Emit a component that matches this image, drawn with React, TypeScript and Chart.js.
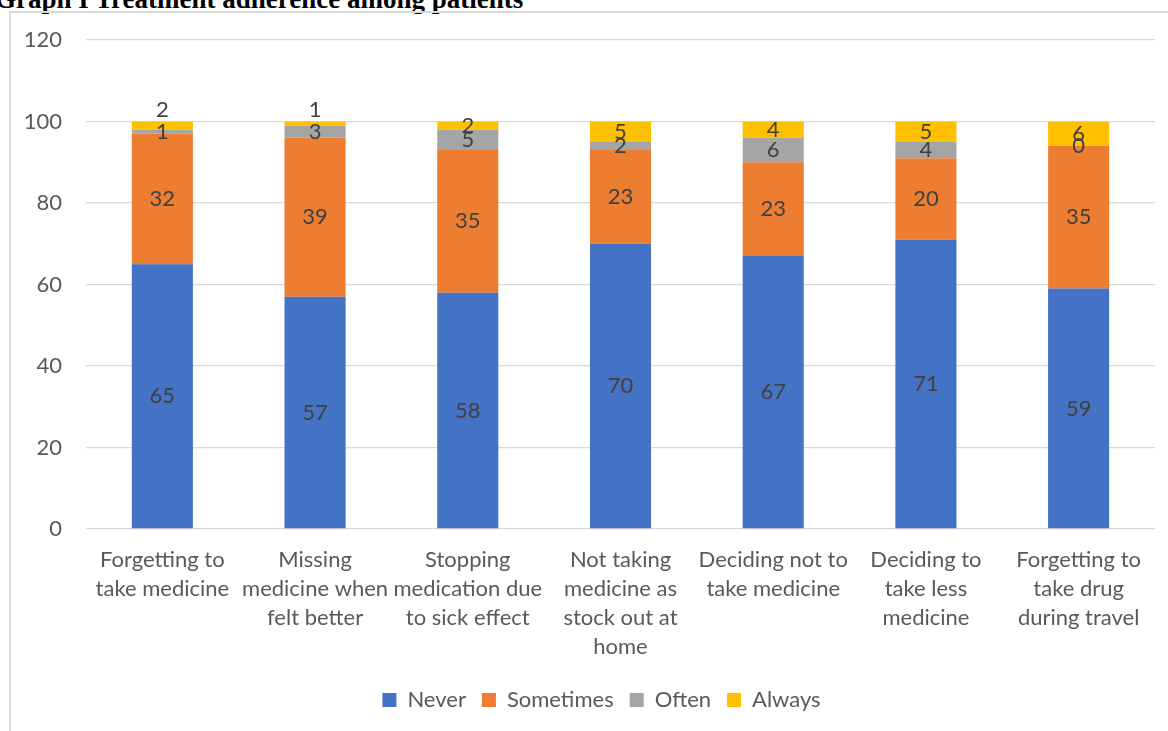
import React, { useEffect, useRef } from "react";
import { Chart, registerables } from "chart.js";

Chart.register(...registerables);

const categories: string[][] = [
  ["Forgetting to", "take medicine"],
  ["Missing", "medicine when", "felt better"],
  ["Stopping", "medication due", "to sick effect"],
  ["Not taking", "medicine as", "stock out at", "home"],
  ["Deciding not to", "take medicine"],
  ["Deciding to", "take less", "medicine"],
  ["Forgetting to", "take drug", "during travel"],
];
const neverValues = [65, 57, 58, 70, 67, 71, 59];
const sometimesValues = [32, 39, 35, 23, 23, 20, 35];
const oftenValues = [1, 3, 5, 2, 6, 4, 0];
const alwaysValues = [2, 1, 2, 5, 4, 5, 6];
const seriesNames = ["Never", "Sometimes", "Often", "Always"];
const seriesColors = ["#4472C4", "#ED7D31", "#A5A5A5", "#FFC000"];
const yMin = 0;
const yMax = 120;
const yStep = 20;

const FONT = "Lato, 'Liberation Sans', sans-serif";
const FS = 22;

const labelPlugin = {
  id: "stackLabels",
  afterLayout(chart: any) {
    const lg = chart.legend;
    if (lg) {
      lg.left += 24;
      lg.right += 24;
    }
  },
  afterDatasetsDraw(chart: any) {
    const ctx = chart.ctx;
    ctx.save();
    ctx.font = `${FS}px ${FONT}`;
    ctx.fillStyle = "#404040";
    ctx.textAlign = "center";
    ctx.textBaseline = "middle";
    const n = chart.data.labels.length;
    for (let i = 0; i < n; i++) {
      let prevY = Infinity;
      chart.data.datasets.forEach((ds: any, di: number) => {
        const meta = chart.getDatasetMeta(di);
        const el = meta.data[i];
        if (!el) return;
        const { x, y, base } = el.getProps(["x", "y", "base"], true);
        let cy = (y + base) / 2;
        if (prevY - cy < 10) cy = prevY - 22;
        ctx.fillText(String(ds.data[i]), x, cy);
        prevY = cy;
      });
    }
    ctx.restore();
  },
};

export default function App() {
  const ref = useRef<HTMLCanvasElement | null>(null);
  useEffect(() => {
    if (!ref.current) return;
    const allValues = [neverValues, sometimesValues, oftenValues, alwaysValues];
    const chart = new Chart(ref.current, {
      type: "bar",
      data: {
        labels: categories,
        datasets: allValues.map((vals, k) => ({
          label: seriesNames[k],
          data: vals,
          backgroundColor: seriesColors[k],
          borderWidth: 0,
          categoryPercentage: 1,
          barPercentage: 0.4,
        })),
      },
      options: {
        animation: false,
        responsive: false,
        devicePixelRatio: 1,
        layout: { padding: { left: 0, right: 13, top: 40, bottom: 10 } },
        plugins: {
          legend: {
            position: "bottom",
            labels: {
              color: "#595959",
              font: { family: FONT, size: FS },
              boxWidth: 14,
              boxHeight: 14,
              padding: 16,
            },
          },
          tooltip: { enabled: false },
          title: { display: false },
        },
        scales: {
          x: {
            stacked: true,
            grid: { display: false, drawTicks: false },
            border: { display: false },
            ticks: {
              color: "#595959",
              font: { family: FONT, size: FS, lineHeight: 29 / FS },
              padding: 16,
              maxRotation: 0,
              autoSkip: false,
            },
            afterFit: (s: any) => {
              s.height = 144;
            },
          },
          y: {
            stacked: true,
            min: yMin,
            max: yMax,
            ticks: {
              stepSize: yStep,
              color: "#595959",
              font: { family: FONT, size: FS },
              padding: 24,
            },
            grid: { color: "#d9d9d9", lineWidth: 1.3, drawTicks: false },
            border: { display: false },
            afterFit: (s: any) => {
              s.width = 86;
            },
          },
        },
      },
      plugins: [labelPlugin],
    });
    return () => chart.destroy();
  }, []);

  return (
    <div style={{ position: "fixed", left: 0, top: 0, width: 1168, height: 731, overflow: "hidden", background: "#fff" }}>
      <div
        style={{
          position: "absolute",
          left: -5,
          top: -14,
          fontFamily: "'Liberation Serif', 'Times New Roman', serif",
          fontWeight: "bold",
          fontSize: 27,
          lineHeight: "27px",
          whiteSpace: "nowrap",
          color: "#000",
        }}
      >
        Graph I Treatment adherence among patients
      </div>
      <div
        style={{
          position: "absolute",
          left: 9,
          top: 11,
          width: 1300,
          height: 900,
          borderLeft: "2px solid #d9d9d9",
          borderTop: "2px solid #d9d9d9",
        }}
      />
      <canvas ref={ref} width={1168} height={731} style={{ position: "absolute", left: 0, top: 0, width: 1168, height: 731 }} />
    </div>
  );
}
